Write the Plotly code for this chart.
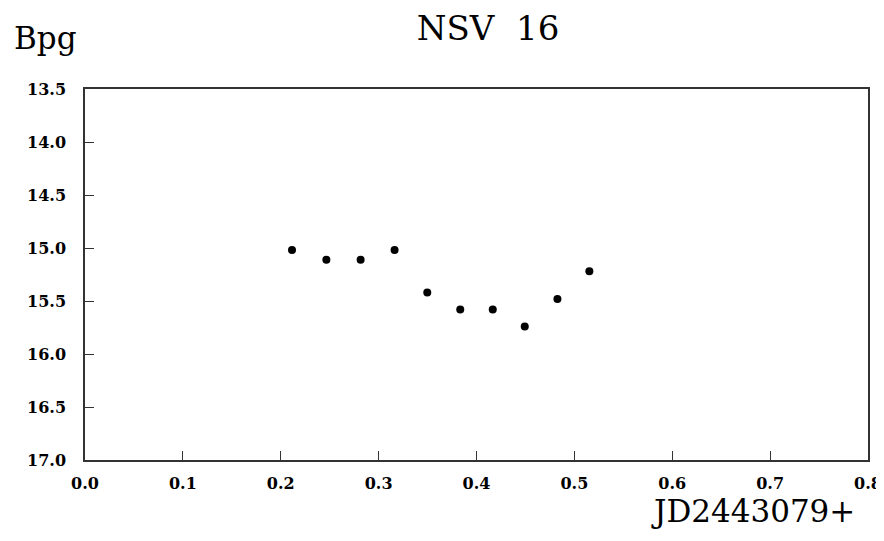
import plotly.graph_objects as go

# ── Light curve data ──
JD_OFFSET = [0.2115, 0.2466, 0.2816, 0.3163, 0.3497, 0.3834, 0.4166, 0.4493, 0.4827, 0.5153]
BPG_MAG   = [15.02, 15.11, 15.11, 15.02, 15.42, 15.58, 15.58, 15.74, 15.48, 15.22]

X_TICKS = [0.0, 0.1, 0.2, 0.3, 0.4, 0.5, 0.6, 0.7, 0.8]
Y_TICKS = [13.5, 14.0, 14.5, 15.0, 15.5, 16.0, 16.5, 17.0]

FONT = "DejaVu Serif"
INK  = "#000000"

fig = go.Figure(go.Scatter(
    x=JD_OFFSET,
    y=BPG_MAG,
    mode="markers",
    marker=dict(size=8, color=INK),
    showlegend=False,
))

axis_common = dict(
    showline=True,
    linecolor="#333333",
    linewidth=1.5,
    mirror=True,
    ticks="inside",
    ticklen=9,
    tickwidth=1,
    tickcolor="#333333",
    showgrid=False,
    zeroline=False,
    automargin=False,
    tickfont=dict(family=FONT, size=16, color=INK, weight="bold"),
)

fig.update_xaxes(
    range=[0.0, 0.8],
    tickvals=X_TICKS,
    ticktext=[f"{v:.1f}" for v in X_TICKS],
    ticklabelstandoff=8,
    **axis_common,
)
fig.update_yaxes(
    range=[17.0, 13.5],
    tickvals=Y_TICKS,
    ticktext=[f"{v:.1f}" for v in Y_TICKS],
    ticklabelstandoff=14,
    **axis_common,
)

# page body adds an 8px offset, so the figure is sized to fit the window
fig.update_layout(
    width=876,
    height=533,
    paper_bgcolor="white",
    plot_bgcolor="white",
    margin=dict(l=77, r=16, t=81, b=81),
    title=dict(
        text="NSV  16",
        x=0.548, xanchor="center",
        y=0.962, yanchor="middle",
        font=dict(family=FONT, size=34, color=INK),
    ),
    annotations=[
        dict(
            text="Bpg", xref="paper", yref="paper",
            x=-0.0932, y=1.137, xanchor="left", yanchor="middle",
            showarrow=False,
            font=dict(family=FONT, size=31, color=INK),
        ),
        dict(
            text="JD2443079+", xref="paper", yref="paper",
            x=0.986, y=-0.137, xanchor="right", yanchor="middle",
            showarrow=False,
            font=dict(family=FONT, size=31, color=INK),
        ),
    ],
)

fig.write_html("out.html")
